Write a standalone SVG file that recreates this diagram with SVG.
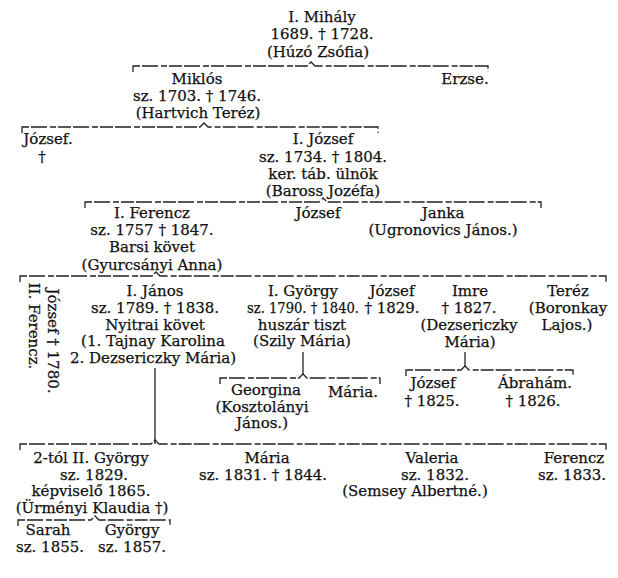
<svg xmlns="http://www.w3.org/2000/svg" width="618" height="578" viewBox="0 0 618 578">
<style>
text{font-family:"DejaVu Serif","Liberation Serif",serif;font-size:15px;fill:#111;stroke:#111;stroke-width:0.25;text-anchor:middle}
.br{fill:none;stroke:#222;stroke-width:1.3;stroke-dasharray:13 2 16 3 6 2}
.vl{fill:none;stroke:#222;stroke-width:1.3}
</style>
<rect width="618" height="578" fill="#fff"/>
<g id="connectors">
<path class="br" d="M133,72 L133,66 L307,66 L311,62 L315,66 L488,66 L488,72"/>
<path class="br" d="M22,133 L22,127 L200,127 L204,123 L208,127 L378,127 L378,133"/>
<path class="br" d="M85,208 L85,202 L319,202 L323,198 L327,202 L541,202 L541,208"/>
<path class="br" d="M20,282 L20,276 L152,276 L156,272 L160,276 L606,276 L606,282"/>
<path class="vl" d="M155,368 L155,444"/>
<path class="vl" d="M303,352 L303,374"/>
<path class="br" d="M220,384 L220,378 L299,378 L303,374 L307,378 L380,378 L380,384"/>
<path class="vl" d="M465,352 L465,366"/>
<path class="br" d="M406,376 L406,370 L461,370 L465,366 L469,370 L573,370 L573,376"/>
<path class="br" d="M20,450 L20,444 L151,444 L155,440 L159,444 L606,444 L606,450"/>
<path class="br" d="M18,526 L18,520 L91,520 L95,516 L99,520 L170,520 L170,526"/>
</g>
<g id="mihaly"><text x="322" y="22">I. Mihály</text><text x="322" y="39">1689. † 1728.</text><text x="318" y="57">(Húzó Zsófia)</text></g>
<g id="miklos"><text x="197" y="84">Miklós</text><text x="197" y="101">sz. 1703. † 1746.</text><text x="198" y="118">(Hartvich Teréz)</text></g>
<g id="erzse"><text x="465" y="84">Erzse.</text></g>
<g id="jozsef-a"><text x="48" y="144">József.</text><text x="42" y="162">†</text></g>
<g id="jozsef-i"><text x="323" y="144">I. József</text><text x="323" y="162">sz. 1734. † 1804.</text><text x="323" y="179">ker. táb. ülnök</text><text x="323" y="196">(Baross Jozéfa)</text></g>
<g id="ferencz-i"><text x="152" y="218">I. Ferencz</text><text x="152" y="235">sz. 1757 † 1847.</text><text x="152" y="252">Barsi követ</text><text x="152" y="270">(Gyurcsányi Anna)</text></g>
<g id="jozsef-b"><text x="318" y="218">József</text></g>
<g id="janka"><text x="443" y="218">Janka</text><text x="443" y="235">(Ugronovics János.)</text></g>
<g id="ferencz-ii"><text transform="translate(29,326) rotate(90)">II. Ferencz.</text></g>
<g id="jozsef-c"><text transform="translate(48,341) rotate(90)">József † 1780.</text></g>
<g id="janos"><text x="155" y="296">I. János</text><text x="155" y="313">sz. 1789. † 1838.</text><text x="155" y="330">Nyitrai követ</text><text x="153" y="346">(1. Tajnay Karolina</text><text x="153" y="363">2. Dezsericzky Mária)</text></g>
<g id="gyorgy-i"><text x="303" y="296">I. György</text><text x="303" y="313" textLength="112" lengthAdjust="spacingAndGlyphs">sz. 1790. † 1840.</text><text x="302" y="330">huszár tiszt</text><text x="302" y="346">(Szily Mária)</text></g>
<g id="jozsef-d"><text x="392" y="296">József</text><text x="392" y="313">† 1829.</text></g>
<g id="imre"><text x="470" y="296">Imre</text><text x="469" y="313">† 1827.</text><text x="469" y="330">(Dezsericzky</text><text x="470" y="347">Mária)</text></g>
<g id="terez"><text x="568" y="296">Teréz</text><text x="568" y="313">(Boronkay</text><text x="567" y="330">Lajos.)</text></g>
<g id="georgina"><text x="266" y="395">Georgina</text><text x="262" y="412">(Kosztolányi</text><text x="262" y="428">János.)</text></g>
<g id="maria-a"><text x="353" y="397">Mária.</text></g>
<g id="jozsef-e"><text x="433" y="388">József</text><text x="432" y="406">† 1825.</text></g>
<g id="abraham"><text x="535" y="388">Ábrahám.</text><text x="533" y="406">† 1826.</text></g>
<g id="gyorgy-ii"><text x="91" y="463">2-tól II. György</text><text x="94" y="480">sz. 1829.</text><text x="91" y="496">képviselő 1865.</text><text x="92" y="513">(Ürményi Klaudia †)</text></g>
<g id="sarah"><text x="48" y="535">Sarah</text><text x="50" y="552">sz. 1855.</text></g>
<g id="gyorgy-iii"><text x="132" y="535">György</text><text x="132" y="552">sz. 1857.</text></g>
<g id="maria-b"><text x="267" y="463">Mária</text><text x="263" y="480">sz. 1831. † 1844.</text></g>
<g id="valeria"><text x="432" y="463">Valeria</text><text x="435" y="480">sz. 1832.</text><text x="415" y="496">(Semsey Albertné.)</text></g>
<g id="ferencz-iii"><text x="574" y="463">Ferencz</text><text x="572" y="480">sz. 1833.</text></g>
</svg>
